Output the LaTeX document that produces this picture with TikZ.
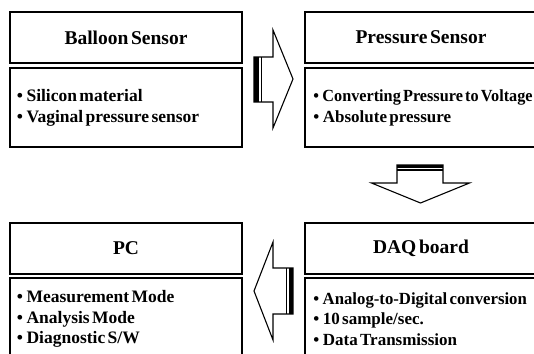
\documentclass[tikz,border=0pt]{standalone}
\usepackage{fontspec}
\usepackage{graphicx}
\setmainfont{Liberation Serif}[WordSpace=0.55]
\tikzset{
  headbox/.style={draw, line width=1.6pt, minimum width=232pt, minimum height=51pt,
    inner sep=0pt, font=\fontsize{19.5}{22}\selectfont\bfseries},
  bodybox/.style={draw, line width=1.6pt, minimum width=232pt, minimum height=79pt, inner sep=0pt},
  items/.style={anchor=west, align=left, inner sep=0pt, font=\fontsize{17.5}{20.5}\selectfont\bfseries},
  itemsR/.style={items, font=\fontsize{17}{20.5}\selectfont\bfseries},
  blockarrow/.style={draw, line width=1.1pt, fill=white, line join=miter},
  stripe/.style={fill=black}
}
\newcommand{\itm}{\textbullet\hspace{3.5pt}}
\begin{document}
\begin{tikzpicture}[x=1pt, y=-1pt]
\useasboundingbox (0,0) rectangle (534,353);

% Balloon sensor
\node[headbox] (balloonH) at (126,37.5) {Balloon Sensor};
\node[bodybox] (balloonB) at (126,107.5) {};
\node[items] (balloonT) at ([xshift=7.5pt,yshift=-0.5pt]balloonB.west)
  {\itm Silicon material\\ \itm Vaginal pressure sensor};

% Pressure sensor
\node[headbox] (pressH) at (421,37.5) {Pressure Sensor};
\node[bodybox] (pressB) at (421,107.5) {};
\node[itemsR] (pressT) at ([xshift=9pt,yshift=-0.5pt]pressB.west)
  {\scalebox{0.955}[1]{\itm Converting Pressure to Voltage}\\ \itm Absolute pressure};

% PC
\node[headbox] (pcH) at (126,248.5) {PC};
\node[bodybox] (pcB) at (126,317.5) {};
\node[items] (pcT) at ([xshift=7.5pt,yshift=-1.5pt]pcB.west)
  {\itm Measurement Mode\\ \itm Analysis Mode\\ \itm Diagnostic S/W};

% DAQ board
\node[headbox] (daqH) at (421,248.5) {DAQ board};
\node[bodybox] (daqB) at (421,317.5) {};
\node[itemsR] (daqT) at ([xshift=9pt,yshift=-1.5pt]daqB.west)
  {\scalebox{0.985}[1]{\itm Analog-to-Digital conversion}\\ \itm 10 sample/sec.\\ \itm Data Transmission};

% striped block arrow: balloon -> pressure
\draw[blockarrow] (254,57) -- (273,57) -- (273,30) -- (293,79) -- (273,128)
  -- (273,102) -- (254,102) -- cycle;
\fill[stripe] (254,57) rectangle (259,102);
\fill[stripe] (260.5,57) rectangle (262,102);

% striped block arrow: pressure -> DAQ
\draw[blockarrow] (397,165) -- (443,165) -- (443,183) -- (469.5,183) -- (420.5,203)
  -- (371.5,183) -- (397,183) -- cycle;
\fill[stripe] (397,165) rectangle (443,168);
\fill[stripe] (397,169.2) rectangle (443,171);

% striped block arrow: DAQ -> PC
\draw[blockarrow] (293,268) -- (273,268) -- (273,242) -- (254,291) -- (273,340)
  -- (273,314) -- (293,314) -- cycle;
\fill[stripe] (288.5,268) rectangle (293,314);
\fill[stripe] (285.5,268) rectangle (287,314);
\end{tikzpicture}
\end{document}
